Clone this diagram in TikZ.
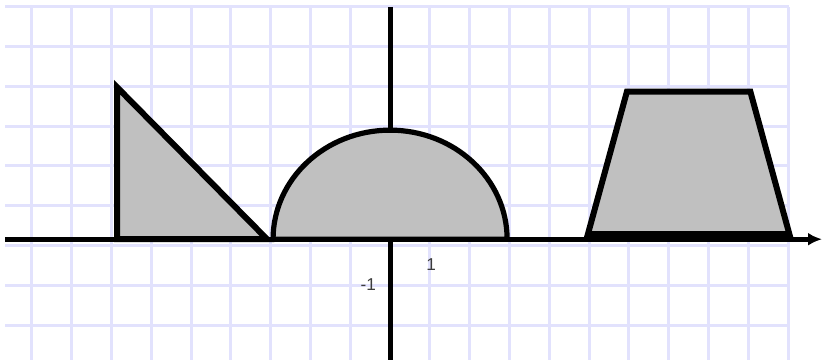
\documentclass[tikz,border=0pt]{standalone}
\usepackage{fontspec}
\setmainfont{Liberation Sans}
\usepackage{tikz}
\usetikzlibrary{arrows.meta}
\definecolor{gridblue}{RGB}{226,226,253}
\definecolor{shapegray}{RGB}{192,192,192}
\definecolor{ticktext}{RGB}{60,60,60}

\begin{document}
\begin{tikzpicture}[x=0.7cm,y=0.7cm,
  every node/.style={font=\fontsize{8.6}{9}\selectfont,text=ticktext,inner sep=0pt},
  gridline/.style={gridblue,line width=1.5pt},
  axis/.style={line width=2.5pt},
  figure/.style={draw,fill=shapegray,line width=3pt,line join=miter}
]
\useasboundingbox (-9.80,-3.04) rectangle (10.85,6.01);
% grid
\foreach \gx in {-9,...,10} \draw[gridline] (\gx,-3.04) -- (\gx,5.84);
\foreach \gy in {-2,...,6} \draw[gridline] (-9.67,\gy-0.16) -- (10.02,\gy-0.16);
% axes
\draw[axis,-{Latex[length=7pt,width=6.5pt]}] (-9.67,0) -- (10.85,0);
\draw[axis] (0,5.84) -- (0,-3.04);
% triangle
\draw[figure] (-6.86,3.82) -- (-6.86,0) -- (-3.09,0) -- cycle;
% half disc
\draw[figure,line width=2.6pt] (-2.94,0) arc[start angle=180,end angle=0,x radius=2.94,y radius=2.74] -- cycle;
% trapezoid
\draw[figure] (4.97,0.13) -- (5.95,3.71) -- (9.05,3.71) -- (10.03,0.13) -- cycle;
% tick labels
\node (xone) at (1.03,-0.64) {1};
\node (yminus) at (-0.55,-1.14) {-1};
\end{tikzpicture}
\end{document}
